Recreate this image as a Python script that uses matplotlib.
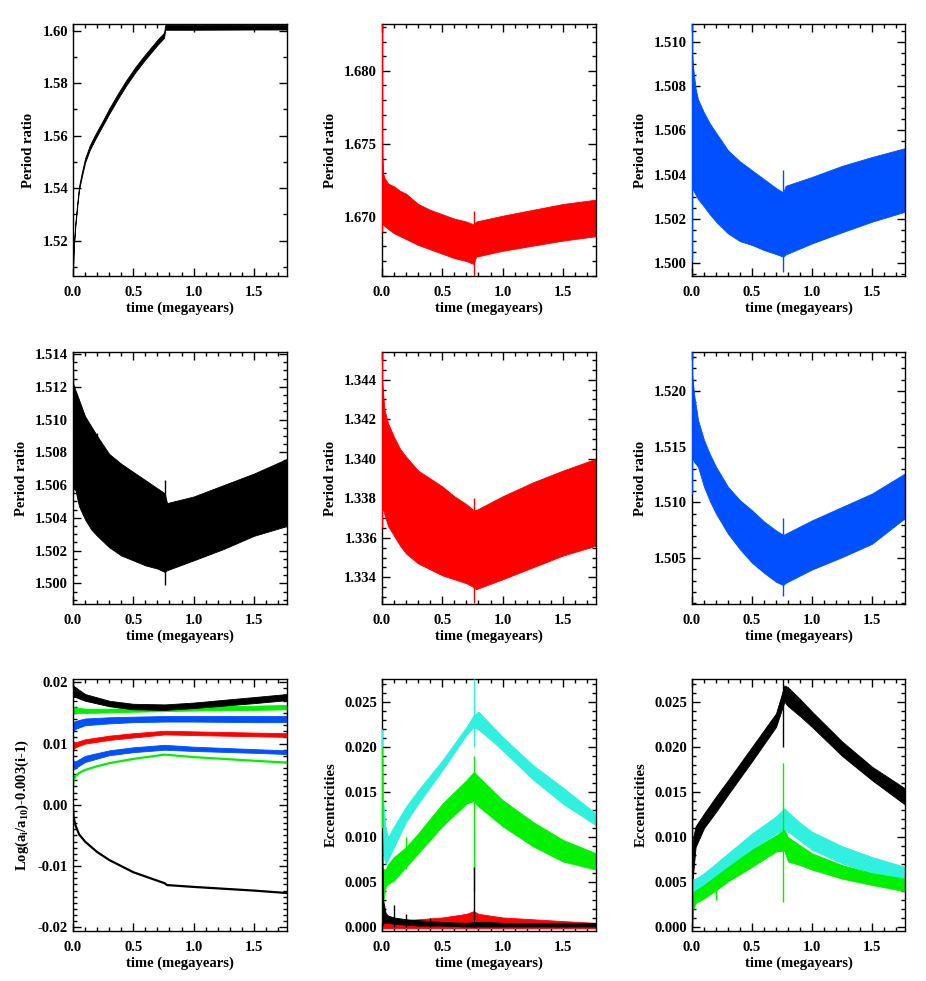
import matplotlib
matplotlib.use("Agg")
import matplotlib.pyplot as plt
from matplotlib.ticker import MultipleLocator, FormatStrFormatter

plt.rcParams['font.family'] = ['Liberation Serif', 'DejaVu Serif']
plt.rcParams['font.weight'] = 'bold'
plt.rcParams['axes.unicode_minus'] = False
plt.rcParams['mathtext.fontset'] = 'custom'
plt.rcParams['mathtext.rm'] = 'Liberation Serif:bold'
plt.rcParams['mathtext.it'] = 'Liberation Serif:bold'
plt.rcParams['mathtext.default'] = 'rm'

BLACK = '#000000'
RED = '#ff0000'
BLUE = '#0050ff'
GREEN = '#00f000'
CYAN = '#30f0e0'

XMAX = 1.775

# ---------------- top-left (black): centre line and half-width ----------------
tl_t = [0.0, 0.004, 0.01, 0.02, 0.035, 0.05, 0.075, 0.1, 0.14, 0.19, 0.25, 0.3, 0.37, 0.44,
        0.52, 0.6, 0.7, 0.755, 0.765, 1.0, 1.5, 1.775]
tl_mid = [1.5085, 1.5150, 1.5200, 1.5265, 1.5335, 1.5400, 1.5455, 1.5505, 1.5555, 1.5600,
          1.5650, 1.5693, 1.5748, 1.5800, 1.5853, 1.5900, 1.5955, 1.5982, 1.6012, 1.6012,
          1.6013, 1.6013]
tl_hw = [0.0004, 0.0004, 0.0005, 0.0006, 0.0007, 0.0007, 0.0008, 0.0008, 0.0009, 0.0009,
         0.0009, 0.0010, 0.0010, 0.0010, 0.0010, 0.0010, 0.0010, 0.0010, 0.0009, 0.0009,
         0.0009, 0.0009]

# ---------------- top-middle (red) ----------------
tm_t = [0.0, 0.004, 0.01, 0.02, 0.05, 0.1, 0.15, 0.2, 0.3, 0.4, 0.5, 0.6, 0.7, 0.76, 0.78,
        1.0, 1.25, 1.5, 1.775]
tm_hi = [1.6760, 1.6740, 1.6730, 1.6727, 1.6723, 1.6721, 1.6718, 1.6716, 1.6709, 1.6705,
         1.6702, 1.6699, 1.6697, 1.6695, 1.6697, 1.6701, 1.6705, 1.6709, 1.6712]
tm_lo = [1.6698, 1.6695, 1.6695, 1.6694, 1.6692, 1.6689, 1.6687, 1.6685, 1.6681, 1.6678,
         1.6675, 1.6672, 1.6670, 1.6668, 1.6673, 1.6677, 1.66805, 1.6684, 1.6687]
tm_sp_t = [0.002, 0.76]
tm_sp_lo = [1.6690, 1.6660]
tm_sp_hi = [1.6832, 1.6704]

# ---------------- top-right (blue) ----------------
tr_t = [0.0, 0.01, 0.03, 0.05, 0.1, 0.15, 0.2, 0.3, 0.4, 0.5, 0.6, 0.7, 0.76, 0.78, 1.0,
        1.25, 1.5, 1.775]
tr_hi = [1.5095, 1.5088, 1.5079, 1.5074, 1.5068, 1.5063, 1.5059, 1.5051, 1.5046, 1.5042,
         1.5038, 1.5034, 1.5032, 1.5035, 1.5039, 1.5044, 1.5048, 1.5052]
tr_lo = [1.5034, 1.5033, 1.5031, 1.5029, 1.50256, 1.5022, 1.50188, 1.50135, 1.5010, 1.50083,
         1.5006, 1.50042, 1.5003, 1.5004, 1.5009, 1.5014, 1.50188, 1.50233]
tr_sp_t = [0.003, 0.76]
tr_sp_lo = [1.5001, 1.4996]
tr_sp_hi = [1.5108, 1.5042]

# ---------------- middle-left (black) ----------------
ml_t = [0.0, 0.02, 0.05, 0.1, 0.15, 0.2, 0.3, 0.4, 0.5, 0.6, 0.7, 0.76, 0.78, 1.0, 1.25,
        1.5, 1.775]
ml_hi = [1.5122, 1.5118, 1.5112, 1.5102, 1.5096, 1.5090, 1.5079, 1.5073, 1.5068, 1.5063,
         1.5058, 1.5055, 1.5049, 1.5053, 1.5060, 1.5067, 1.5076]
ml_lo = [1.5058, 1.5057, 1.5047, 1.5039, 1.5033, 1.5029, 1.5022, 1.5017, 1.5014, 1.5011,
         1.5009, 1.5007, 1.5008, 1.5014, 1.5021, 1.5029, 1.5035]
ml_sp_t = [0.003, 0.2, 0.76]
ml_sp_lo = [1.5055, 1.5085, 1.4999]
ml_sp_hi = [1.5129, 1.5092, 1.5063]

# ---------------- middle-middle (red) ----------------
mm_t = [0.0, 0.02, 0.05, 0.1, 0.15, 0.2, 0.3, 0.4, 0.5, 0.6, 0.7, 0.76, 0.78, 1.0, 1.25,
        1.5, 1.775]
mm_hi = [1.3440, 1.3425, 1.3418, 1.3411, 1.3405, 1.3401, 1.3394, 1.3390, 1.3386, 1.3381,
         1.3377, 1.3374, 1.3374, 1.3381, 1.3388, 1.3394, 1.3400]
mm_lo = [1.3376, 1.3372, 1.3366, 1.3361, 1.3356, 1.3352, 1.3347, 1.3344, 1.3341, 1.3339,
         1.3337, 1.3335, 1.3334, 1.3339, 1.3345, 1.3351, 1.3356]
mm_sp_t = [0.003, 0.76]
mm_sp_lo = [1.3365, 1.3327]
mm_sp_hi = [1.3454, 1.3380]

# ---------------- middle-right (blue) ----------------
mr_t = [0.0, 0.02, 0.05, 0.1, 0.15, 0.2, 0.3, 0.4, 0.5, 0.6, 0.7, 0.76, 0.78, 1.0, 1.25,
        1.5, 1.775]
mr_hi = [1.5215, 1.5195, 1.5174, 1.5156, 1.5143, 1.5132, 1.5114, 1.5102, 1.5093, 1.5083,
         1.5075, 1.5071, 1.5072, 1.5084, 1.5096, 1.5108, 1.5126]
mr_lo = [1.5140, 1.5136, 1.5132, 1.5114, 1.5101, 1.5090, 1.5072, 1.5058, 1.5046, 1.5037,
         1.5029, 1.5026, 1.5028, 1.5040, 1.5051, 1.5063, 1.5086]
mr_sp_t = [0.003, 0.76]
mr_sp_lo = [1.5108, 1.5016]
mr_sp_hi = [1.5235, 1.5086]

# ---------------- bottom-left (semi-major axes) ----------------
bl_t = [0.0, 0.02, 0.1, 0.3, 0.5, 0.76, 1.0, 1.5, 1.775]
bl_black_hi = [0.0195, 0.0192, 0.0181, 0.0170, 0.0165, 0.0164, 0.0167, 0.0176, 0.0181]
bl_black_lo = [0.0176, 0.0176, 0.0170, 0.0161, 0.0156, 0.0155, 0.0158, 0.0166, 0.0171]
bl_green_hi = [0.0160, 0.0159, 0.0157, 0.0157, 0.0158, 0.0159, 0.0160, 0.0162, 0.0163]
bl_green_lo = [0.0149, 0.0150, 0.0150, 0.0151, 0.0152, 0.0153, 0.0154, 0.0155, 0.0156]
bl_blue_hi = [0.0135, 0.0137, 0.0141, 0.0143, 0.0144, 0.0145, 0.0145, 0.0145, 0.0145]
bl_blue_lo = [0.0120, 0.0124, 0.0130, 0.0133, 0.0135, 0.0136, 0.0136, 0.0135, 0.0135]
bl_red_hi = [0.0104, 0.0102, 0.0107, 0.0113, 0.0117, 0.0121, 0.0120, 0.0118, 0.0117]
bl_red_lo = [0.0090, 0.0094, 0.0100, 0.0106, 0.0110, 0.0115, 0.0114, 0.0112, 0.0111]
bl_blue2_hi = [0.0072, 0.0071, 0.0080, 0.0089, 0.0094, 0.0098, 0.0095, 0.0091, 0.0089]
bl_blue2_lo = [0.0058, 0.0060, 0.0070, 0.0081, 0.0086, 0.0090, 0.0088, 0.0085, 0.0083]
bl_green2_t = [0.0, 0.005, 0.02, 0.05, 0.1, 0.2, 0.3, 0.5, 0.76, 1.0, 1.5, 1.775]
bl_green2 = [0.0030, 0.0040, 0.0047, 0.0052, 0.0057, 0.0063, 0.0068, 0.0075, 0.0082, 0.0078,
             0.0072, 0.0069]
bl_black2_t = [0.0, 0.005, 0.02, 0.05, 0.1, 0.2, 0.3, 0.5, 0.76, 0.78, 1.0, 1.5, 1.775]
bl_black2 = [-0.0003, -0.0020, -0.0033, -0.0048, -0.0060, -0.0077, -0.0090, -0.0110, -0.0128,
             -0.0131, -0.0134, -0.0140, -0.0144]

# ---------------- bottom-middle (eccentricities) ----------------
bm_t = [0.0, 0.01, 0.03, 0.05, 0.1, 0.2, 0.3, 0.5, 0.7, 0.76, 0.8, 0.9, 1.0, 1.25, 1.5, 1.775]
bm_cyan_hi = [0.0200, 0.0140, 0.0110, 0.0100, 0.0112, 0.0134, 0.0152, 0.0185, 0.0222, 0.0235,
              0.0239, 0.0225, 0.0211, 0.0180, 0.0155, 0.0126]
bm_cyan_lo = [0.0110, 0.0080, 0.0070, 0.0075, 0.0089, 0.0117, 0.0137, 0.0174, 0.0213, 0.0222,
              0.0219, 0.0208, 0.0196, 0.0164, 0.0137, 0.0113]
bm_green_hi = [0.0060, 0.0065, 0.0064, 0.0070, 0.0078, 0.0089, 0.0104, 0.0137, 0.0163, 0.0172,
               0.0167, 0.0154, 0.0141, 0.0117, 0.0097, 0.0082]
bm_green_lo = [0.0000, 0.0030, 0.0045, 0.0048, 0.0052, 0.0067, 0.0082, 0.0112, 0.0137, 0.0140,
               0.0134, 0.0123, 0.0112, 0.0090, 0.0073, 0.0064]
bm_red_hi = [0.0020, 0.0012, 0.0009, 0.0008, 0.0008, 0.0008, 0.0009, 0.0011, 0.0015, 0.0018,
             0.0015, 0.0013, 0.0011, 0.0009, 0.0007, 0.0005]
bm_red_lo = [-0.0001] * 16
bm_black_hi = [0.0110, 0.0030, 0.0016, 0.0013, 0.0011, 0.0009, 0.0008, 0.0006, 0.0005, 0.0006,
               0.0006, 0.0006, 0.0005, 0.0005, 0.0005, 0.0005]
bm_black_lo = [0.0000, 0.0005, 0.0005, 0.0005, 0.0004, 0.0003, 0.0002, 0.0002, 0.0001, 0.0001,
               0.0001, 0.0001, 0.0001, 0.0001, 0.0001, 0.0001]
bm_cyan_sp_t = [0.003, 0.76]
bm_cyan_sp_lo = [0.0100, 0.0200]
bm_cyan_sp_hi = [0.0220, 0.0275]
bm_green_sp_t = [0.003, 0.2, 0.76]
bm_green_sp_lo = [0.0000, 0.0065, 0.0040]
bm_green_sp_hi = [0.0200, 0.0100, 0.0190]
bm_black_sp_t = [0.1, 0.2, 0.4, 0.76]
bm_black_sp_lo = [0.0, 0.0, 0.0, 0.0]
bm_black_sp_hi = [0.0025, 0.0015, 0.0010, 0.0067]

# ---------------- bottom-right (eccentricities) ----------------
br_t = [0.0, 0.01, 0.03, 0.1, 0.2, 0.3, 0.5, 0.7, 0.77, 0.8, 0.9, 1.0, 1.25, 1.5, 1.775]
br_black_hi = [0.0040, 0.0100, 0.0112, 0.0126, 0.0145, 0.0163, 0.0200, 0.0237, 0.0268, 0.0266,
               0.0253, 0.0239, 0.0206, 0.0178, 0.0154]
br_black_lo = [0.0000, 0.0060, 0.0089, 0.0110, 0.0128, 0.0147, 0.0184, 0.0222, 0.0250, 0.0245,
               0.0234, 0.0222, 0.0190, 0.0163, 0.0136]
br_cyan_hi = [0.0050, 0.0054, 0.0054, 0.0060, 0.0071, 0.0082, 0.0104, 0.0123, 0.0132, 0.0128,
              0.0116, 0.0106, 0.0090, 0.0078, 0.0067]
br_cyan_lo = [0.0030, 0.0040, 0.0041, 0.0045, 0.0054, 0.0064, 0.0086, 0.0104, 0.0108, 0.0106,
              0.0096, 0.0086, 0.0071, 0.0060, 0.0054]
br_green_hi = [0.0030, 0.0038, 0.0041, 0.0047, 0.0057, 0.0067, 0.0086, 0.0102, 0.0108, 0.0100,
               0.0091, 0.0082, 0.0069, 0.0060, 0.0054]
br_green_lo = [0.0000, 0.0020, 0.0027, 0.0032, 0.0041, 0.0051, 0.0067, 0.0084, 0.0085, 0.0073,
               0.0069, 0.0064, 0.0054, 0.0047, 0.0040]
br_black_sp_t = [0.003, 0.76]
br_black_sp_lo = [0.0000, 0.0200]
br_black_sp_hi = [0.0150, 0.0275]
br_green_sp_t = [0.2, 0.76]
br_green_sp_lo = [0.0030, 0.0028]
br_green_sp_hi = [0.0055, 0.0182]

# ======================================================================
W, H = 926, 981
fig = plt.figure(figsize=(W / 100, H / 100), dpi=100)

cols = [(73, 287), (382, 596), (692, 905)]
rows = [(24, 276), (352, 604), (679, 931)]
FS = 10.5


def make_ax(r, c):
    x0, x1 = cols[c]
    y0, y1 = rows[r]
    ax = fig.add_axes([x0 / W, 1 - y1 / H, (x1 - x0) / W, (y1 - y0) / H])
    ax.set_xlim(0, XMAX)
    ax.xaxis.set_major_locator(MultipleLocator(0.5))
    ax.xaxis.set_minor_locator(MultipleLocator(0.1))
    ax.xaxis.set_major_formatter(FormatStrFormatter('%.1f'))
    ax.tick_params(which='both', direction='in', top=True, right=True,
                   labelsize=FS, width=1.0)
    ax.tick_params(axis='y', which='both', pad=3.5)
    ax.tick_params(axis='x', which='both', pad=7.5)
    ax.tick_params(which='major', length=6)
    ax.tick_params(which='minor', length=3)
    for s in ax.spines.values():
        s.set_linewidth(1.0)
    ax.set_xlabel('time (megayears)', fontsize=FS, fontweight='bold', labelpad=1.5)
    return ax


def yaxis(ax, lo, hi, major, minor, fmt, label, labelpad=5):
    ax.set_ylim(lo, hi)
    ax.yaxis.set_major_locator(MultipleLocator(major))
    ax.yaxis.set_minor_locator(MultipleLocator(minor))
    ax.yaxis.set_major_formatter(FormatStrFormatter(fmt))
    ax.set_ylabel(label, fontsize=FS, fontweight='bold', labelpad=labelpad)


def band(ax, t, lo, hi, color, z=2):
    ax.fill_between(t, lo, hi, color=color, lw=0.6, edgecolor=color, zorder=z)


def spikes(ax, t, lo, hi, color, z=3):
    ax.vlines(t, lo, hi, color=color, lw=1.0, zorder=z)


# Top row
ax = make_ax(0, 0)
tl_hi = [m + w for m, w in zip(tl_mid, tl_hw)]
tl_lo = [m - w for m, w in zip(tl_mid, tl_hw)]
band(ax, tl_t, tl_lo, tl_hi, BLACK)
yaxis(ax, 1.5065, 1.6025, 0.02, 0.01, '%.2f', 'Period ratio')

ax = make_ax(0, 1)
band(ax, tm_t, tm_lo, tm_hi, RED)
spikes(ax, tm_sp_t, tm_sp_lo, tm_sp_hi, RED)
yaxis(ax, 1.66598, 1.6832, 0.005, 0.001, '%.3f', 'Period ratio')

ax = make_ax(0, 2)
band(ax, tr_t, tr_lo, tr_hi, BLUE)
spikes(ax, tr_sp_t, tr_sp_lo, tr_sp_hi, BLUE)
yaxis(ax, 1.49943, 1.5108, 0.002, 0.0005, '%.3f', 'Period ratio')

# Middle row
ax = make_ax(1, 0)
band(ax, ml_t, ml_lo, ml_hi, BLACK)
spikes(ax, ml_sp_t, ml_sp_lo, ml_sp_hi, BLACK)
yaxis(ax, 1.49874, 1.51412, 0.002, 0.0005, '%.3f', 'Period ratio')

ax = make_ax(1, 1)
band(ax, mm_t, mm_lo, mm_hi, RED)
spikes(ax, mm_sp_t, mm_sp_lo, mm_sp_hi, RED)
yaxis(ax, 1.33265, 1.3454, 0.002, 0.0005, '%.3f', 'Period ratio')

ax = make_ax(1, 2)
band(ax, mr_t, mr_lo, mr_hi, BLUE)
spikes(ax, mr_sp_t, mr_sp_lo, mr_sp_hi, BLUE)
yaxis(ax, 1.50091, 1.52347, 0.005, 0.001, '%.3f', 'Period ratio')

# Bottom row
ax = make_ax(2, 0)
band(ax, bl_t, bl_green_lo, bl_green_hi, GREEN)
band(ax, bl_t, bl_black_lo, bl_black_hi, BLACK)
band(ax, bl_t, bl_blue_lo, bl_blue_hi, BLUE)
band(ax, bl_t, bl_red_lo, bl_red_hi, RED)
band(ax, bl_t, bl_blue2_lo, bl_blue2_hi, BLUE)
ax.plot(bl_green2_t, bl_green2, color=GREEN, lw=1.6, zorder=2)
ax.plot(bl_black2_t, bl_black2, color=BLACK, lw=1.6, zorder=2)
yaxis(ax, -0.0206, 0.02055, 0.01, 0.001, '%.2f',
      r'Log(a$_{\rm i}$/a$_{10}$)-0.003(i-1)')

ax = make_ax(2, 1)
band(ax, bm_t, bm_cyan_lo, bm_cyan_hi, CYAN)
spikes(ax, bm_cyan_sp_t, bm_cyan_sp_lo, bm_cyan_sp_hi, CYAN)
band(ax, bm_t, bm_green_lo, bm_green_hi, GREEN)
spikes(ax, bm_green_sp_t, bm_green_sp_lo, bm_green_sp_hi, GREEN)
band(ax, bm_t, bm_red_lo, bm_red_hi, RED)
band(ax, bm_t, bm_black_lo, bm_black_hi, BLACK, z=3)
spikes(ax, bm_black_sp_t, bm_black_sp_lo, bm_black_sp_hi, BLACK, z=4)
yaxis(ax, -0.0004, 0.02751, 0.005, 0.001, '%.3f', 'Eccentricities')

ax = make_ax(2, 2)
band(ax, br_t, br_black_lo, br_black_hi, BLACK)
spikes(ax, br_black_sp_t, br_black_sp_lo, br_black_sp_hi, BLACK)
band(ax, br_t, br_cyan_lo, br_cyan_hi, CYAN)
band(ax, br_t, br_green_lo, br_green_hi, GREEN)
spikes(ax, br_green_sp_t, br_green_sp_lo, br_green_sp_hi, GREEN)
yaxis(ax, -0.0004, 0.02751, 0.005, 0.001, '%.3f', 'Eccentricities')

fig.savefig('out.png', dpi=100)
